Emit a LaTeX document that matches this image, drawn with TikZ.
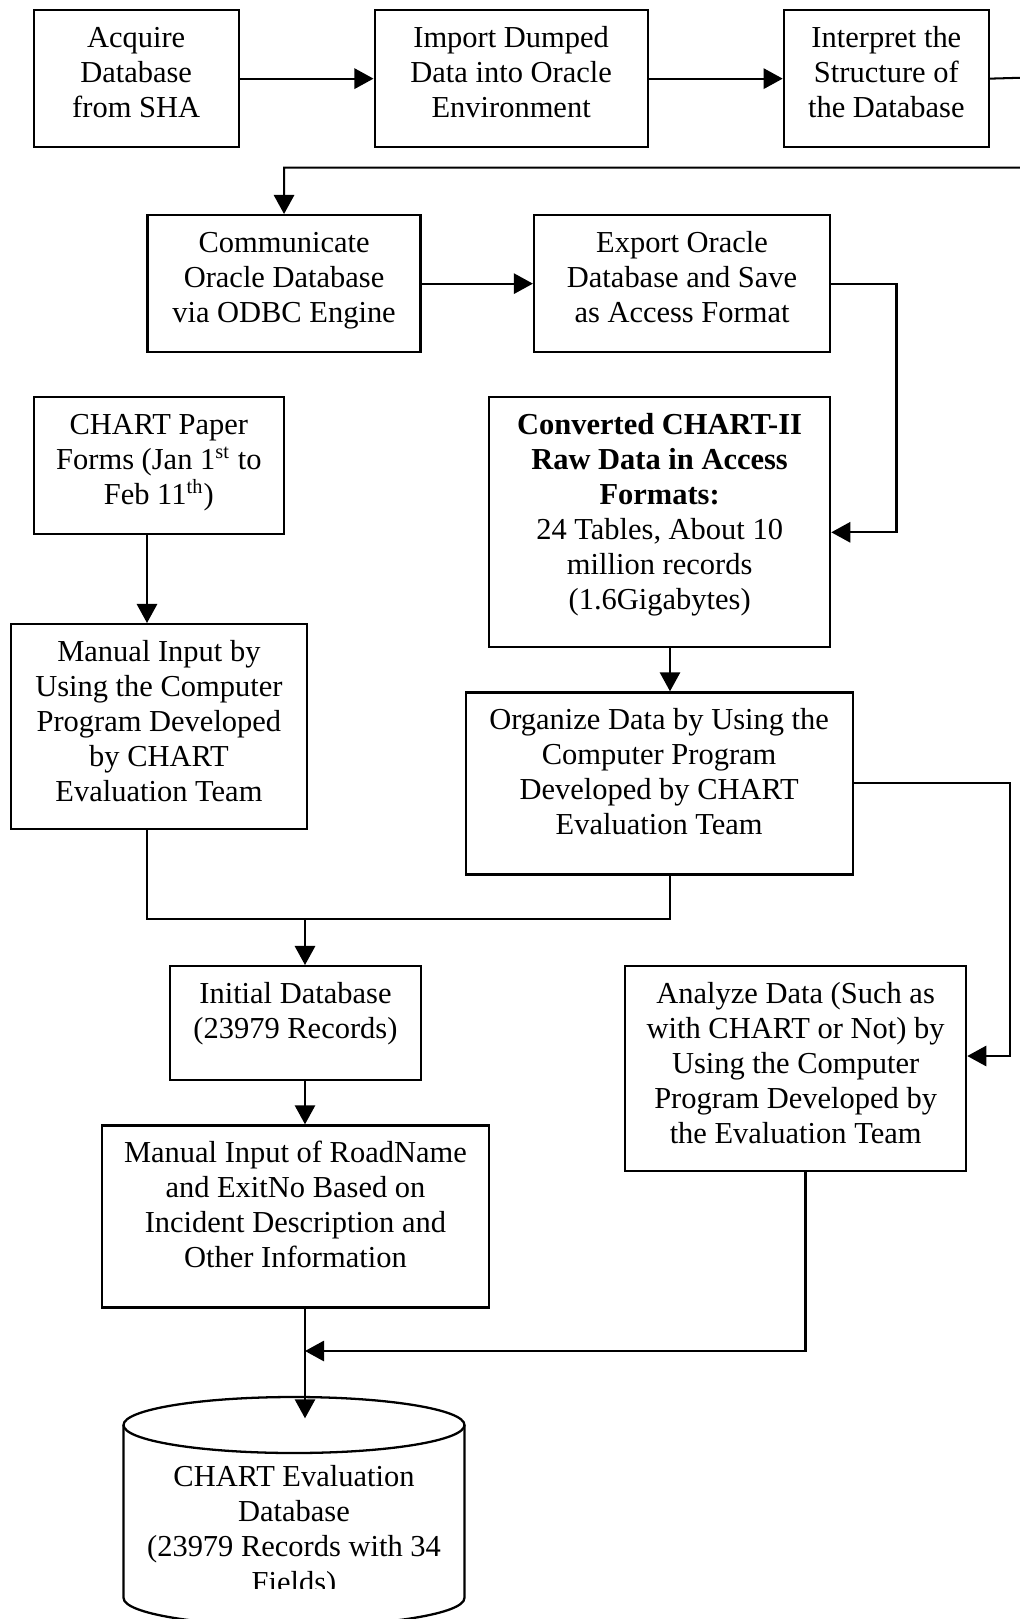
\documentclass[tikz,border=0pt]{standalone}
\usepackage{fontspec}
\setmainfont{Liberation Serif}
\usepackage{tikz}
\usetikzlibrary{arrows.meta}
\usepackage{xcolor}
\definecolor{ink}{RGB}{0,0,0}
\newlength\unitpx
\setlength\unitpx{0.3937pt}
\tikzset{
  stage/.style={draw=ink,line width=0.9pt,inner sep=0pt,anchor=north west},
  link/.style={line width=0.8pt,ink},
  arr/.style={-{Triangle[length=7.5pt,width=8pt]},line width=0.8pt,ink},
}
% box text: width, height (px), top aligned lines
\newcommand{\tb}[3]{\parbox[c][#2\unitpx][t]{#1\unitpx}{\centering\rule{0pt}{14.7pt}#3}}

\begin{document}
\begin{tikzpicture}[x=0.3937pt,y=-0.3937pt,font=\fontsize{12}{13.8}\selectfont]
  \useasboundingbox (0,0) rectangle (1020,1619);
  \clip (0,0) rectangle (1020,1619);

  \node[stage] (acq) at (32.5,9) {\tb{205}{137}{Acquire\\Database\\from SHA}};
  \node[stage] (imp) at (373.5,9) {\tb{273}{137}{Import Dumped\\Data into Oracle\\Environment}};
  \node[stage] (intp) at (782.7,9) {\tb{205}{137}{Interpret the\\Structure of\\the Database}};
  \node[stage] (comm) at (146.4,214) {\tb{273}{137}{Communicate\\Oracle Database\\via ODBC Engine}};
  \node[stage] (expo) at (532.9,214) {\tb{296}{137}{Export Oracle\\Database and Save\\as Access Format}};
  \node[stage] (paper) at (32.5,396)
    {\tb{250.5}{137}{CHART Paper\\Forms (Jan 1\textsuperscript{st} to\\Feb 11\textsuperscript{th})}};
  \node[stage] (conv) at (488,396)
    {\tb{341}{250}{\textbf{Converted CHART-II}\\\textbf{Raw Data in Access}\\\textbf{Formats:}\\
     24 Tables, About 10\\million records\\(1.6Gigabytes)}};
  \node[stage] (man) at (9.8,623)
    {\tb{296}{205}{Manual Input by\\Using the Computer\\Program Developed\\by CHART\\Evaluation Team}};
  \node[stage] (org) at (464.5,691.3)
    {\tb{387}{182}{Organize Data by Using the\\Computer Program\\Developed by CHART\\Evaluation Team}};
  \node[stage] (init) at (169,965) {\tb{250.6}{114}{Initial Database\\(23979 Records)}};
  \node[stage] (anlz) at (624,965)
    {\tb{341}{205}{Analyze Data (Such as\\with CHART or Not) by\\Using the Computer\\Program Developed by\\the Evaluation Team}};
  \node[stage] (road) at (100.8,1124.3)
    {\tb{387}{182}{Manual Input of RoadName\\and ExitNo Based on\\Incident Description and\\Other Information}};

  % database cylinder
  \draw[link,line width=0.9pt] (294,1425) ellipse [x radius=170.5,y radius=28];
  \draw[link,line width=0.9pt] (123.6,1425) -- (123.6,1598)
    .. controls (123.6,1613.5) and (199.8,1626) .. (294,1626)
    .. controls (388.2,1626) and (464.4,1613.5) .. (464.4,1598) -- (464.4,1425);
  \begin{scope}
    \clip (100,1430) rectangle (490,1588);
    \node[inner sep=0pt,anchor=north] (evdb) at (294,1449)
      {\tb{341}{150}{CHART Evaluation\\Database\\(23979 Records with 34\\Fields)}};
  \end{scope}

  \coordinate (r1) at (1030,77.5);
  \coordinate (r2) at (1030,167.7);
  \coordinate (k1) at (896.5,532.3);
  \coordinate (k2) at (1010.4,1056);
  \coordinate (cl) at (147,0);
  \coordinate (cr) at (670,0);
  \coordinate (ca) at (805.5,0);
  \coordinate (j1) at (305,918.8);
  \coordinate (j2) at (305,1351);
  \coordinate (dbtop) at (305,1418.3);

  \draw[arr] (acq) -- (imp);
  \draw[arr] (imp) -- (intp);
  \draw[arr] (intp.east) -- (r1) -- (r2) -| (comm.north);
  \draw[arr] (comm) -- (expo);
  \draw[arr] (expo.east) -| (k1) -- (conv.east |- k1);
  \draw[arr] (paper.south -| cl) -- (man.north -| cl);
  \draw[arr] (conv.south -| cr) -- (org.north -| cr);
  \draw[link] (man.south -| cl) |- (j1) -| (org.south -| cr);
  \draw[arr] (j1) -- (init.north -| j1);
  \draw[arr] (init.south -| j1) -- (road.north -| j1);
  \draw[arr] (org.east) -| (k2) -- (anlz.east |- k2);
  \draw[arr] (anlz.south -| ca) |- (j2);
  \draw[arr] (road.south -| j1) -- (dbtop);
\end{tikzpicture}
\end{document}
